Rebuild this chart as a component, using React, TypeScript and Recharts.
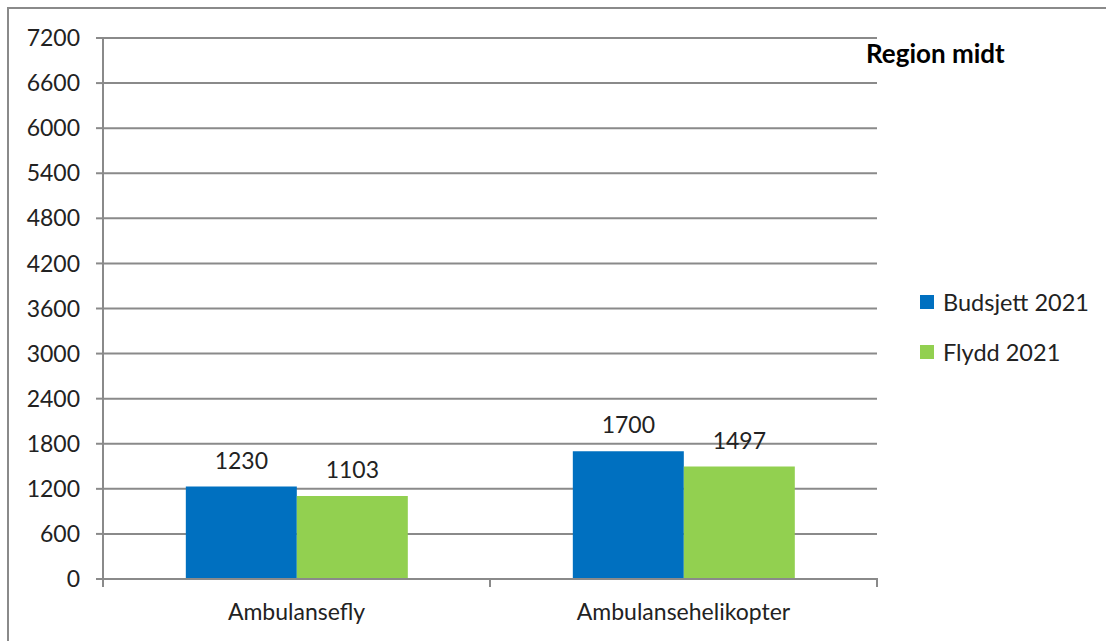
import React from 'react';
import { BarChart, Bar, XAxis, YAxis, CartesianGrid, LabelList } from 'recharts';

const categories = ['Ambulansefly', 'Ambulansehelikopter'];
const budsjett2021 = [1230, 1700];
const flydd2021 = [1103, 1497];
const yTicks = [0, 600, 1200, 1800, 2400, 3000, 3600, 4200, 4800, 5400, 6000, 6600, 7200];
const seriesNames = ['Budsjett 2021', 'Flydd 2021'];
const seriesColors = ['#0070C0', '#92D050'];
const title = 'Region midt';

const data = categories.map((c, i) => ({ name: c, b: budsjett2021[i], f: flydd2021[i] }));

const FONT = 'Lato, "Liberation Sans", sans-serif';
const GRID = '#8a8a8a';
const FS = 23;

const XTick = (props: any) => {
  const { x, y, payload } = props;
  const off = payload.offset || 0;
  return (
    <g>
      <line x1={x - off} y1={y - 1} x2={x - off} y2={y + 8} stroke={GRID} strokeWidth={2} />
      <line x1={x + off} y1={y - 1} x2={x + off} y2={y + 8} stroke={GRID} strokeWidth={2} />
      <text x={x} y={y + 25} dy="0.71em" textAnchor="middle" fill="#222" fontSize={FS} fontFamily={FONT}>
        {payload.value}
      </text>
    </g>
  );
};

export default function App() {
  return (
    <div style={{ position: 'absolute', left: 0, top: 0, width: 1106, height: 641, background: '#fff', overflow: 'hidden' }}>
      <div style={{ position: 'absolute', left: 7, top: 7, width: 1106, height: 700, borderTop: `2px solid ${GRID}`, borderLeft: `2px solid ${GRID}` }} />
      <div style={{ position: 'absolute', left: 866, top: 37, fontFamily: FONT, fontWeight: 700, fontSize: 26, color: '#000' }}>{title}</div>
      <div style={{ position: 'absolute', left: 920, top: 277, fontFamily: FONT, fontSize: 23.5, color: '#222' }}>
        {seriesNames.map((n, i) => (
          <div key={i} style={{ display: 'flex', alignItems: 'center', height: 50 }}>
            <span style={{ width: 14, height: 14, background: seriesColors[i], display: 'inline-block', marginRight: 9 }} />
            <span>{n}</span>
          </div>
        ))}
      </div>
      <BarChart
        width={1106}
        height={641}
        data={data}
        margin={{ top: 38, right: 229, bottom: 0, left: 0 }}
        barCategoryGap="21.4%"
        barGap={0}
        style={{ position: 'absolute', left: 0, top: 0 }}
      >
        <CartesianGrid vertical={false} stroke={GRID} strokeWidth={2} />
        <XAxis
          dataKey="name"
          axisLine={{ stroke: GRID, strokeWidth: 2 }}
          tickLine={false}
          tickSize={0}
          tickMargin={0}
          tick={<XTick />}
          interval={0}
          height={62}
        />
        <YAxis
          domain={[0, 7200]}
          ticks={yTicks}
          interval={0}
          width={103}
          axisLine={{ stroke: GRID, strokeWidth: 2 }}
          tickLine={{ stroke: GRID, strokeWidth: 2 }}
          tickSize={7}
          tickMargin={16}
          tick={{ fill: '#222', fontSize: FS, fontFamily: FONT }}
        />
        <Bar dataKey="b" name={seriesNames[0]} fill={seriesColors[0]} isAnimationActive={false}>
          <LabelList dataKey="b" position="top" offset={18} fill="#222" fontSize={FS} fontFamily={FONT} />
        </Bar>
        <Bar dataKey="f" name={seriesNames[1]} fill={seriesColors[1]} isAnimationActive={false}>
          <LabelList dataKey="f" position="top" offset={18} fill="#222" fontSize={FS} fontFamily={FONT} />
        </Bar>
      </BarChart>
    </div>
  );
}
